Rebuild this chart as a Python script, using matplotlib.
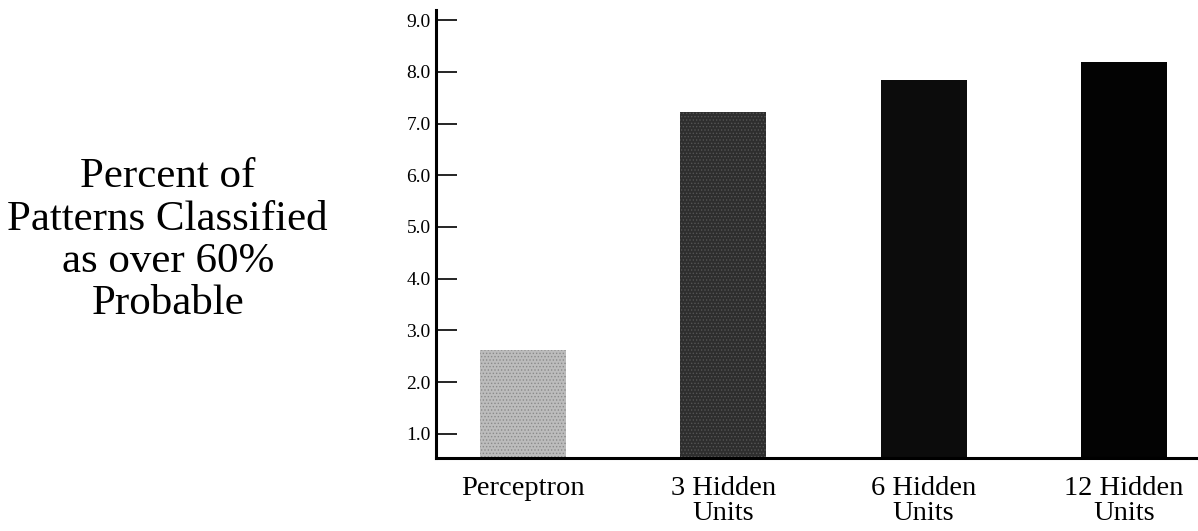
import numpy as np
import matplotlib
matplotlib.use("Agg")
import matplotlib.pyplot as plt

categories = ["Perceptron", "3 Hidden\nUnits", "6 Hidden\nUnits", "12 Hidden\nUnits"]
values = [2.62, 7.23, 7.85, 8.2]
bar_colors = ["#bcbcbc", "#2e2e2e", "#0c0c0c", "#030303"]
ytick_vals = [1.0, 2.0, 3.0, 4.0, 5.0, 6.0, 7.0, 8.0, 9.0]
ylabel_text = "Percent of\nPatterns Classified\nas over 60%\nProbable"

plt.rcParams['font.family'] = ['Liberation Serif', 'DejaVu Serif']
plt.rcParams['hatch.linewidth'] = 0.6

fig = plt.figure(figsize=(11.98, 5.31), dpi=100)
ax = fig.add_axes([0.364, 0.1375, 0.636, 0.844])

x = np.arange(len(categories))
bars = ax.bar(x, values, width=0.43, bottom=0, color=bar_colors, linewidth=0)
# stipple look on the lighter bars
bars[0].set_hatch('.....')
bars[0].set_edgecolor('#8a8a8a')
bars[1].set_hatch('.....')
bars[1].set_edgecolor('#555555')

ax.set_xlim(-0.435, 3.37)
ax.set_ylim(0.53, 9.2)

ax.set_yticks(ytick_vals)
ax.set_yticklabels(["%.1f" % v for v in ytick_vals], fontsize=14)
ax.tick_params(axis='y', direction='in', length=15, width=1.2, pad=4)

ax.set_xticks(x)
ax.set_xticklabels(categories, fontsize=20.5, linespacing=1.02)
ax.tick_params(axis='x', length=0, pad=13)

ax.spines['top'].set_visible(False)
ax.spines['right'].set_visible(False)
ax.spines['left'].set_linewidth(2.2)
ax.spines['bottom'].set_linewidth(2.2)

fig.text(0.14, 0.547, ylabel_text, ha='center', va='center',
         fontsize=31, linespacing=1.13)

fig.savefig("out.png", dpi=100, facecolor='white')
